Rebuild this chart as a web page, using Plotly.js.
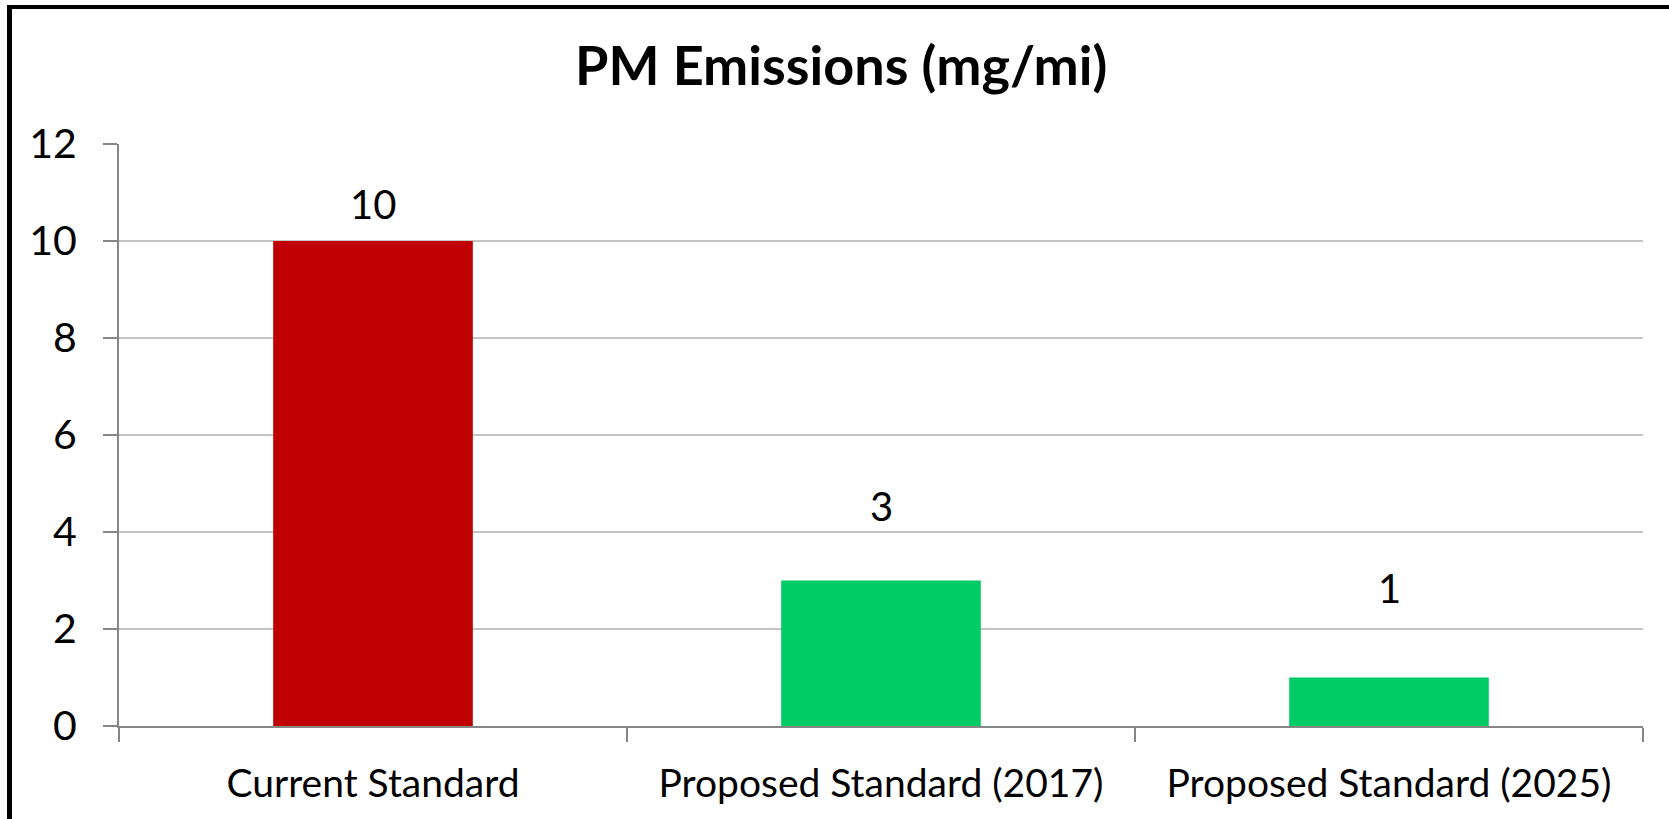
<!DOCTYPE html>
<html>
<head>
<meta charset="utf-8">
<script src="https://cdn.plot.ly/plotly-3.0.1.min.js"></script>
<style>
  html, body { margin: 0; padding: 0; background: #ffffff; }
  #wrap { position: relative; width: 1669px; height: 819px; overflow: hidden; }
  #chart { width: 1669px; height: 819px; }
  #frame { position: absolute; left: 7px; top: 5px; width: 1700px; height: 900px;
           border-top: 4px solid #000; border-left: 5px solid #000; pointer-events: none; }
</style>
</head>
<body>
<div id="wrap">
  <div id="chart"></div>
  <div id="frame"></div>
</div>
<script>
// Data
const categories = ["Current Standard", "Proposed Standard (2017)", "Proposed Standard (2025)"];
const pmValues = [10, 3, 1];
const valueLabels = ["10", "3", "1"];
const chartTitle = "PM Emissions (mg/mi)";

// Styles
const barColors = ["#C00000", "#00CC66", "#00CC66"];
const labelShiftPx = [37, 75, 90];
const fontFamily = "Lato, 'Open Sans', sans-serif";

const trace = {
  type: "bar",
  x: categories,
  y: pmValues,
  marker: { color: barColors, line: { width: 0 } },
  hoverinfo: "x+y"
};

const annotations = categories.map((c, i) => ({
  x: c, y: pmValues[i], xref: "x", yref: "y",
  text: valueLabels[i], showarrow: false,
  yanchor: "middle", yshift: labelShiftPx[i],
  font: { family: fontFamily, size: 40, color: "#000" }
}));

const layout = {
  width: 1669, height: 819,
  margin: { l: 119, r: 26, t: 144, b: 93, pad: 0 },
  paper_bgcolor: "#ffffff", plot_bgcolor: "#ffffff",
  showlegend: false,
  bargap: 0.607,
  title: {
    text: "<b>" + chartTitle + "</b>",
    xref: "container", x: 0.504, xanchor: "center",
    yref: "container", y: 1 - 66/819, yanchor: "middle",
    font: { family: fontFamily, size: 54, color: "#000" }
  },
  xaxis: {
    type: "category",
    showline: true, linecolor: "#868686", linewidth: 2,
    ticks: "outside", tickson: "boundaries", ticklen: 14, tickcolor: "#868686", tickwidth: 2,
    showgrid: false, zeroline: false,
    tickfont: { family: fontFamily, size: 39, color: "#000" },
    ticklabelstandoff: 22
  },
  yaxis: {
    range: [0, 12], dtick: 2, tick0: 0,
    showline: true, linecolor: "#868686", linewidth: 2,
    ticks: "outside", ticklen: 14, tickcolor: "#868686", tickwidth: 2,
    showgrid: true, gridcolor: "#C4C4C4", gridwidth: 2,
    zeroline: false,
    tickfont: { family: fontFamily, size: 41, color: "#000" },
    ticklabelstandoff: 18
  },
  annotations: annotations
};

Plotly.newPlot("chart", [trace], layout, { displayModeBar: false, staticPlot: true });
</script>
</body>
</html>
